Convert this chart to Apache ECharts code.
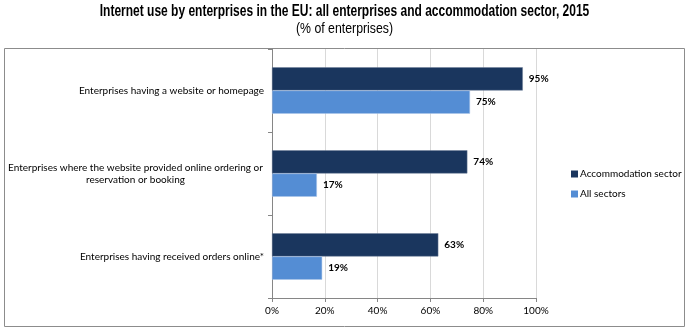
<!DOCTYPE html>
<html><head><meta charset="utf-8">
<script src="https://cdn.jsdelivr.net/npm/echarts@6/dist/echarts.min.js"></script>
<style>html,body{margin:0;padding:0;background:#fff}#c{width:689px;height:327px}</style>
</head><body><div id="c"></div>
<script>
const categories = ["Enterprises having a website or homepage", "Enterprises where the website provided online ordering or\nreservation or booking", "Enterprises having received orders online*"];
const seriesNames = ["Accommodation sector", "All sectors"];
const accommodation = [95, 74, 63];
const allSectors = [75, 17, 19];
const xTicks = [0, 20, 40, 60, 80, 100];
const titleText = "Internet use by enterprises in the EU: all enterprises and accommodation sector, 2015";
const subtitleText = "(% of enterprises)";

const chart = echarts.init(document.getElementById('c'));
const lblFont = "Lato, 'Open Sans', sans-serif";
const titleFont = "'Liberation Sans', Arial, sans-serif";
chart.setOption({
  animation: false,
  graphic: [
    {type: 'text', x: 344.5, y: 4, originX: 0, scaleX: 0.75, silent: true,
     style: {text: titleText, textAlign: 'center', textVerticalAlign: 'top', font: "bold 16px " + titleFont, fill: '#000'}},
    {type: 'text', x: 344.5, y: 21, originX: 0, scaleX: 0.82, silent: true,
     style: {text: subtitleText, textAlign: 'center', textVerticalAlign: 'top', font: "15px " + titleFont, fill: '#000'}},
    {type: 'rect', shape: {x: 4.5, y: 48.5, width: 680, height: 278}, style: {fill: null, stroke: '#8c8c8c', lineWidth: 1}, silent: true, z: -1}
  ],
  legend: {orient: 'vertical', left: 566, top: 164, itemWidth: 7, itemHeight: 7, itemGap: 10, icon: 'rect',
    itemStyle: {borderWidth: 0},
    textStyle: {fontFamily: lblFont, fontSize: 10, color: '#000', padding: [0, 0, 0, -3]}, data: seriesNames},
  grid: {left: 272, right: 153, top: 49, bottom: 29, outerBoundsMode: 'none', containLabel: false},
  xAxis: {type: 'value', min: 0, max: 100, interval: 20,
    axisLine: {show: true, lineStyle: {color: '#868686'}},
    axisTick: {show: true, length: 4, lineStyle: {color: '#868686'}},
    splitLine: {show: true, lineStyle: {color: '#d9d9d9', width: 1}},
    axisLabel: {formatter: v => xTicks.includes(v) ? v + '%' : '', fontFamily: lblFont, fontSize: 10, color: '#000', margin: 8}},
  yAxis: {type: 'category', inverse: true,
    data: categories.map((c, i) => i === 1 ? {value: c, textStyle: {align: 'center', padding: [0, 257, 0, 0]}} : c),
    axisLine: {show: true, lineStyle: {color: '#868686'}},
    axisTick: {show: true, length: 4, lineStyle: {color: '#868686'}},
    axisLabel: {fontFamily: lblFont, fontSize: 10, color: '#000', margin: 8, align: 'right', lineHeight: 12}},
  series: [
    {name: seriesNames[0], type: 'bar', data: accommodation, barCategoryGap: '44%', barGap: '0%',
     itemStyle: {color: '#1a365e', borderColor: '#6f7f98', borderWidth: 0.5},
     label: {show: true, position: 'right', formatter: '{c}%', fontFamily: lblFont, fontSize: 10, fontWeight: 'bold', color: '#000', distance: 6}},
    {name: seriesNames[1], type: 'bar', data: allSectors, barCategoryGap: '44%', barGap: '0%',
     itemStyle: {color: '#548dd4', borderColor: '#a9c4e8', borderWidth: 0.5},
     label: {show: true, position: 'right', formatter: '{c}%', fontFamily: lblFont, fontSize: 10, fontWeight: 'bold', color: '#000', distance: 6}}
  ]
});
</script></body></html>
